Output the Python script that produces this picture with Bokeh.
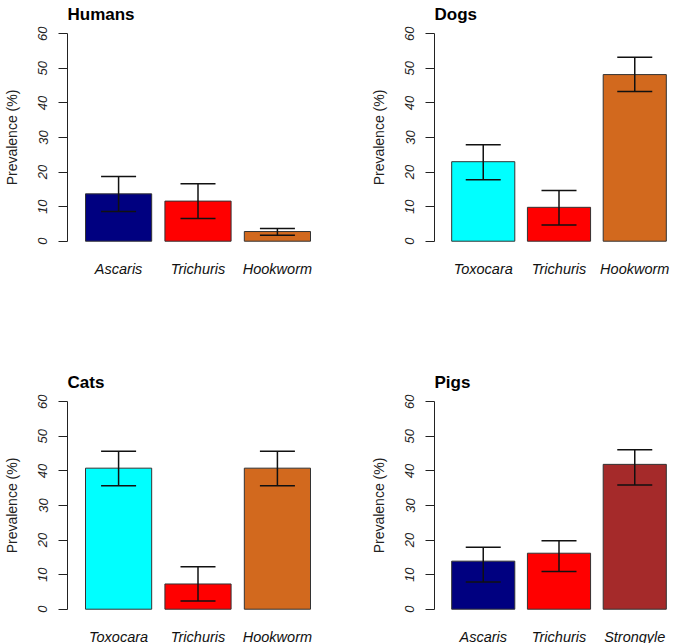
from bokeh.plotting import figure
from bokeh.models import ColumnDataSource, FactorRange, Whisker, TeeHead, FixedTicker
from bokeh.layouts import column, row
from bokeh.embed import file_html
from bokeh.resources import INLINE

# ---- data ----
humans_species = ["Ascaris", "Trichuris", "Hookworm"]
humans_prev = [13.7, 11.6, 2.8]
humans_lo = [8.6, 6.6, 1.7]
humans_hi = [18.7, 16.6, 3.7]
humans_colors = ["#000080", "#FF0000", "#D2691E"]

dogs_species = ["Toxocara", "Trichuris", "Hookworm"]
dogs_prev = [23.0, 9.8, 48.2]
dogs_lo = [17.8, 4.7, 43.3]
dogs_hi = [27.9, 14.7, 53.2]
dogs_colors = ["#00FFFF", "#FF0000", "#D2691E"]

cats_species = ["Toxocara", "Trichuris", "Hookworm"]
cats_prev = [40.8, 7.3, 40.8]
cats_lo = [35.7, 2.4, 35.7]
cats_hi = [45.7, 12.3, 45.7]
cats_colors = ["#00FFFF", "#FF0000", "#D2691E"]

pigs_species = ["Ascaris", "Trichuris", "Strongyle"]
pigs_prev = [13.9, 16.2, 41.9]
pigs_lo = [7.9, 10.9, 35.9]
pigs_hi = [17.9, 19.8, 46.1]
pigs_colors = ["#000080", "#FF0000", "#A52A2A"]

y_ticks = [0, 10, 20, 30, 40, 50, 60]

FONT = "Liberation Sans"


def panel(title, species, prev, lo, hi, colors, frame_w, border_right, border_bottom):
    src = ColumnDataSource(dict(sp=species, prev=prev, lo=lo, hi=hi, col=colors))
    xr = FactorRange(factors=species, factor_padding=0.2, range_padding=0.272,
                     range_padding_units="absolute")
    p = figure(x_range=xr, y_range=(-2.4, 62.4), frame_width=frame_w, frame_height=224,
               output_backend="svg", toolbar_location=None, tools="",
               min_border_left=67, min_border_right=border_right,
               min_border_top=25, min_border_bottom=border_bottom,
               title=title)
    p.outline_line_color = None
    p.grid.visible = False
    p.background_fill_color = "white"

    p.title.text_font = FONT
    p.title.text_font_size = "17px"
    p.title.text_font_style = "bold"
    p.title.text_color = "black"
    p.title.align = "left"
    p.title.vertical_align = "top"
    p.title.offset = 0
    p.title.standoff = 0

    p.vbar(x="sp", top="prev", bottom=0, width=1.0, source=src,
           fill_color="col", line_color="#333333", line_width=1)

    w = Whisker(source=src, base="sp", lower="lo", upper="hi", dimension="height",
                line_color="#111111", line_width=1.5, level="overlay",
                upper_head=TeeHead(size=35, line_color="#111111", line_width=1.5),
                lower_head=TeeHead(size=35, line_color="#111111", line_width=1.5))
    p.add_layout(w)

    ya = p.yaxis[0]
    ya.ticker = FixedTicker(ticks=y_ticks)
    ya.bounds = (0, 60)
    ya.minor_tick_line_color = None
    ya.major_tick_in = 0
    ya.major_tick_out = 9
    ya.axis_line_color = "#222222"
    ya.major_tick_line_color = "#222222"
    ya.major_label_orientation = "vertical"
    ya.major_label_text_font = FONT
    ya.major_label_text_font_style = "italic"
    ya.major_label_text_font_size = "13px"
    ya.major_label_text_color = "#222222"
    ya.major_label_standoff = 11
    ya.axis_label = "Prevalence (%)"
    ya.axis_label_text_font = FONT
    ya.axis_label_text_font_style = "normal"
    ya.axis_label_text_font_size = "14px"
    ya.axis_label_text_color = "#222222"
    ya.axis_label_standoff = 16

    xa = p.xaxis[0]
    xa.axis_line_color = None
    xa.major_tick_line_color = None
    xa.minor_tick_line_color = None
    xa.major_label_text_font = FONT
    xa.major_label_text_font_style = "italic"
    xa.major_label_text_font_size = "14.5px"
    xa.major_label_text_color = "#111111"
    xa.major_label_standoff = 5
    return p


p1 = panel("Humans", humans_species, humans_prev, humans_lo, humans_hi, humans_colors, 261, 39, 119)
p2 = panel("Dogs", dogs_species, dogs_prev, dogs_lo, dogs_hi, dogs_colors, 249, 0, 119)
p3 = panel("Cats", cats_species, cats_prev, cats_lo, cats_hi, cats_colors, 261, 39, 24)
p4 = panel("Pigs", pigs_species, pigs_prev, pigs_lo, pigs_hi, pigs_colors, 249, 0, 24)

layout = column(row(p1, p2), row(p3, p4))

open("out.html", "w").write(file_html(layout, INLINE))
